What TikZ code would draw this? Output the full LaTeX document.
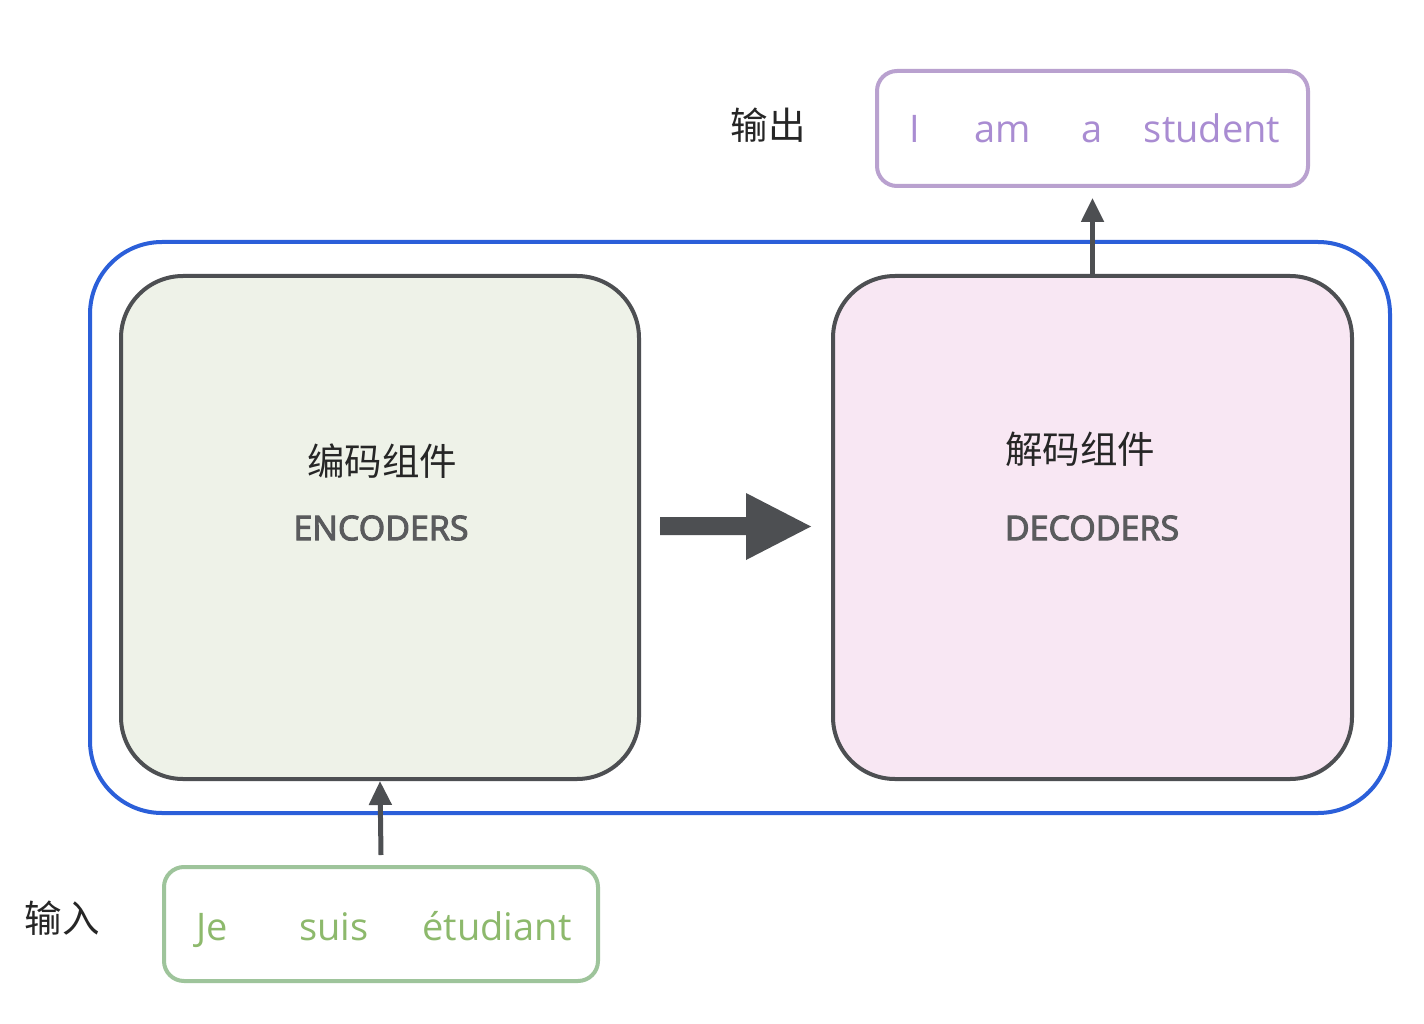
\documentclass[tikz,border=0pt]{standalone}
\usepackage{fontspec}
\setmainfont{Open Sans}
\newfontfamily\cjk{Noto Sans CJK SC}
\newfontfamily\semib[FakeBold=3]{Open Sans}
\usetikzlibrary{arrows.meta}
\definecolor{blueline}{HTML}{2B5FD9}
\definecolor{boxline}{HTML}{4D4F52}
\definecolor{encfill}{HTML}{EEF2E8}
\definecolor{decfill}{HTML}{F8E7F3}
\definecolor{outline}{HTML}{B9A1CF}
\definecolor{outtext}{HTML}{A98CD2}
\definecolor{inline}{HTML}{9EC49B}
\definecolor{intext}{HTML}{8DB96C}
\definecolor{captext}{HTML}{5A5B5D}
\tikzset{
  bigbox/.style={draw=boxline, line width=4pt, rounded corners=62pt},
  wordbox/.style={line width=4pt, rounded corners=20pt},
  cjklabel/.style={font=\cjk\fontsize{37.5}{40}\selectfont, text=black!85, inner sep=0pt},
  caplabel/.style={font=\semib\fontsize{34}{38}\selectfont, text=captext, inner sep=0pt},
  outword/.style={font=\fontsize{38}{42}\selectfont, text=outtext, inner sep=0pt, anchor=base},
  inword/.style={font=\fontsize{38}{42}\selectfont, text=intext, inner sep=0pt, anchor=base},
  conn/.style={draw=boxline, line width=5pt, -{Triangle[length=24pt,width=22pt]}},
}
\begin{document}
\begin{tikzpicture}[x=1pt,y=-1pt]
\useasboundingbox[fill=white] (0,0) rectangle (1424,1024);
% outer blue box
\node[draw=blueline, line width=4pt, rounded corners=72pt, minimum width=1300pt, minimum height=571pt, inner sep=0pt] (outer) at (740,527.5) {};
% encoder & decoder
\node[bigbox, fill=encfill, minimum width=518pt, minimum height=503pt, inner sep=0pt] (enc) at (380,527.5) {};
\node[bigbox, fill=decfill, minimum width=519pt, minimum height=503pt, inner sep=0pt] (dec) at (1092.5,527.5) {};
\node[cjklabel] (enct) at (382,461) {编码组件};
\node[caplabel] (encc) at (381,528) {ENCODERS};
\node[cjklabel] (dect) at (1080,449) {解码组件};
\node[caplabel] (decc) at (1092,528) {DECODERS};
% big arrow
\draw[fill=boxline, draw=none] (660,517) -- (746,517) -- (746,493) -- (811,526.5) -- (746,560) -- (746,535) -- (660,535) -- cycle;
% output box
\node[wordbox, draw=outline, minimum width=431pt, minimum height=115pt, inner sep=0pt] (out) at (1092.5,128.5) {};
\node[outword] (w1) at (915,143) {I};
\node[outword] (w2) at (1003,143) {am};
\node[outword] (w3) at (1092,143) {a};
\node[outword] (w4) at (1212,143) {student};
\node[cjklabel] (outl) at (768,125) {输出};
% input box
\node[wordbox, draw=inline, minimum width=434pt, minimum height=114pt, inner sep=0pt] (in) at (381,924) {};
\node[inword] (v1) at (212,940) {Je};
\node[inword] (v2) at (334,940) {suis};
\node[inword] (v3) at (497,940) {étudiant};
\node[cjklabel] (inl) at (62,918) {输入};
% connectors
\draw[conn] (dec.north) -- ([yshift=-10pt]out.south);
\draw[conn] ([yshift=10pt]in.north) -- (enc.south);
\end{tikzpicture}
\end{document}
